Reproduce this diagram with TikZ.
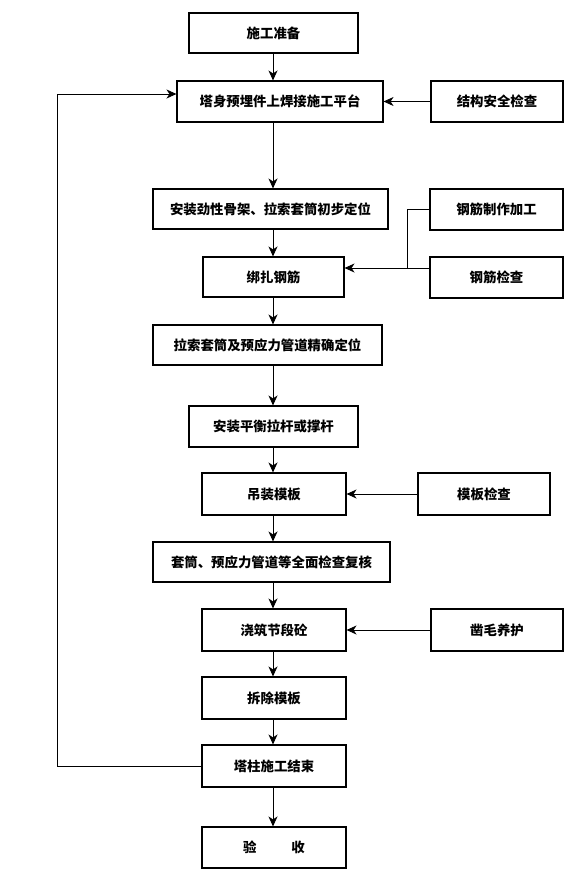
\documentclass[tikz,border=0pt]{standalone}
\usepackage{fontspec}
\setmainfont{Noto Sans CJK SC}
\usetikzlibrary{arrows.meta}
\tikzset{
  every picture/.style={font=\fontsize{13.4}{15}\selectfont\bfseries},
  flow box/.style={draw=black, line width=1.1pt, fill=white, align=center,
    inner sep=0pt},
  flow line/.style={draw=black, line width=0.8pt},
  flow arrow/.style={-{Stealth[length=10pt,width=9pt,inset=3pt]},
    draw=black, line width=0.8pt, line cap=butt}
}
\begin{document}
\begin{tikzpicture}[x=1pt,y=1pt]
  \useasboundingbox (0,0) rectangle (576,-892);
  % main column
  \node[flow box, minimum width=169pt, minimum height=40pt] (prep) at (273.5,-33) {施工准备};
  \node[flow box, minimum width=206pt, minimum height=41pt] (platform) at (280,-101.5) {塔身预埋件上焊接施工平台};
  \node[flow box, minimum width=235pt, minimum height=40pt] (frame) at (270.5,-209) {安装劲性骨架、拉索套筒初步定位};
  \node[flow box, minimum width=141pt, minimum height=40pt] (bind) at (273.5,-277) {绑扎钢筋};
  \node[flow box, minimum width=229pt, minimum height=40pt] (locate) at (267.5,-345) {拉索套筒及预应力管道精确定位};
  \node[flow box, minimum width=169pt, minimum height=41pt] (brace) at (273.5,-426.5) {安装平衡拉杆或撑杆};
  \node[flow box, minimum width=144pt, minimum height=42pt] (hoist) at (274,-494) {吊装模板};
  \node[flow box, minimum width=237pt, minimum height=40pt] (review) at (271.5,-562) {套筒、预应力管道等全面检查复核};
  \node[flow box, minimum width=144pt, minimum height=42pt] (pour) at (274,-630) {浇筑节段砼};
  \node[flow box, minimum width=144pt, minimum height=42pt] (strip) at (274,-698) {拆除模板};
  \node[flow box, minimum width=144pt, minimum height=42pt] (finish) at (274,-766) {塔柱施工结束};
  \node[flow box, minimum width=144pt, minimum height=41pt] (accept) at (274,-847.5) {验\hspace{2.6em}收};
  % side column
  \node[flow box, minimum width=132pt, minimum height=41pt] (safety) at (497,-101.5) {结构安全检查};
  \node[flow box, minimum width=133pt, minimum height=41pt] (rfab) at (496.5,-209.5) {钢筋制作加工};
  \node[flow box, minimum width=133pt, minimum height=41pt] (rcheck) at (496.5,-277.5) {钢筋检查};
  \node[flow box, minimum width=132pt, minimum height=42pt] (fcheck) at (484,-494) {模板检查};
  \node[flow box, minimum width=132pt, minimum height=42pt] (chisel) at (497,-630) {凿毛养护};
  \coordinate (spine) at (273,0);
  \coordinate (join) at (407,-268);
  \coordinate (loop) at (57,-94);
  % main flow
  \foreach \a/\b in {prep/platform, platform/frame, frame/bind, bind/locate, locate/brace,
    brace/hoist, hoist/review, review/pour, pour/strip, strip/finish, finish/accept}
    \draw[flow arrow] (\a.south -| spine) -- (\b.north -| spine);
  % inputs from the side
  \draw[flow arrow] (safety.west) -- (platform.east);
  \draw[flow line] (rfab.west) -| (join);
  \draw[flow arrow] (rcheck.west |- join) -- (bind.east |- join);
  \draw[flow arrow] (fcheck.west) -- (hoist.east);
  \draw[flow arrow] (chisel.west) -- (pour.east);
  % loop back
  \draw[flow arrow] (finish.west) -| (loop) -- (platform.west |- loop);
\end{tikzpicture}
\end{document}
